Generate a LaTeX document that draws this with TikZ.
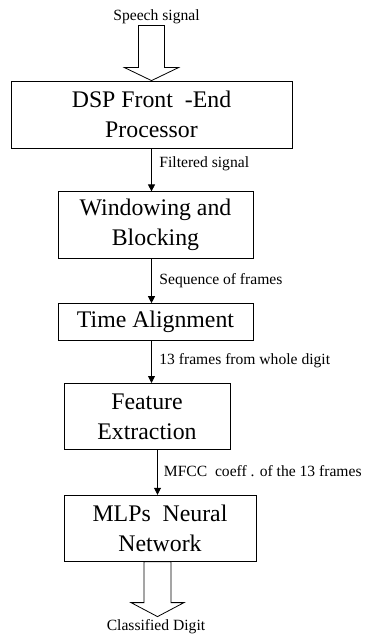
\documentclass[tikz,border=0pt]{standalone}
\usepackage{fontspec}
\setmainfont{Liberation Serif}
\usetikzlibrary{positioning}
\usetikzlibrary{arrows.meta}
\tikzset{
	stage/.style={
		draw, line width=0.8pt, inner sep=0pt, align=center,
		font=\fontsize{23.8}{30}\selectfont
	},
	flowlabel/.style={
		font=\fontsize{15.6}{18}\selectfont, inner sep=0pt
	},
	flow/.style={
		line width=0.8pt, -{Triangle[width=7pt,length=7pt]}
	},
	blockarrow/.style={
		draw, line width=0.8pt, fill=white
	}
}

\begin{document}
\begin{tikzpicture}[x=1pt, y=-1pt]
	\useasboundingbox (0,0) rectangle (368,636);

	\node[stage, minimum width=281pt, minimum height=67pt] (dsp) at (151.5,114.5) {DSP Front\ \ -End\\Processor};
	\node[stage, minimum width=195pt, minimum height=67pt, below=43pt of dsp, xshift=4pt] (win) {Windowing and\\Blocking};
	\node[stage, minimum width=195pt, minimum height=37pt, below=44pt of win] (align) {Time Alignment};
	\node[stage, minimum width=166pt, minimum height=66pt, below=42pt of align, xshift=-8.5pt] (feat) {Feature\\Extraction};
	\node[stage, minimum width=192pt, minimum height=66pt, below=45pt of feat, xshift=13pt] (mlp) {MLPs\ \ Neural\\Network};

	% input and output
	\draw[blockarrow] (dsp.north) -- ++(27,-13) -- ++(-14,0) -- ++(0,-42) -- ++(-26,0) -- ++(0,42) -- ++(-14,0) -- cycle;
	\node[flowlabel] (speech) at (156.5,17) {Speech signal};
	\draw[blockarrow] ([xshift=-2.5pt]mlp.south) ++(-13.5,0) -- ++(0,41) -- ++(-13,0) -- ++(26.5,14) -- ++(26.5,-14) -- ++(-13,0) -- ++(0,-41) -- cycle;
	\node[flowlabel] (digit) at (156,627) {Classified Digit};

	\draw[flow] (dsp.south) -- (dsp.south |- win.north) node[flowlabel, pos=.35, right=7.5pt] (filt) {Filtered signal};
	\draw[flow] (dsp.south |- win.south) -- (dsp.south |- align.north) node[flowlabel, pos=.48, right=7.5pt] (seq) {Sequence of frames};
	\draw[flow] (dsp.south |- align.south) -- (dsp.south |- feat.north) node[flowlabel, pos=.48, right=7.5pt] (frames) {13 frames from whole digit};
	\draw[flow] ([xshift=10.5pt]feat.south) -- ([xshift=10.5pt]feat.south |- mlp.north) node[flowlabel, pos=.48, right=6pt] (mfcc) {MFCC\ \ coeff\ . of the 13 frames};
\end{tikzpicture}
\end{document}
